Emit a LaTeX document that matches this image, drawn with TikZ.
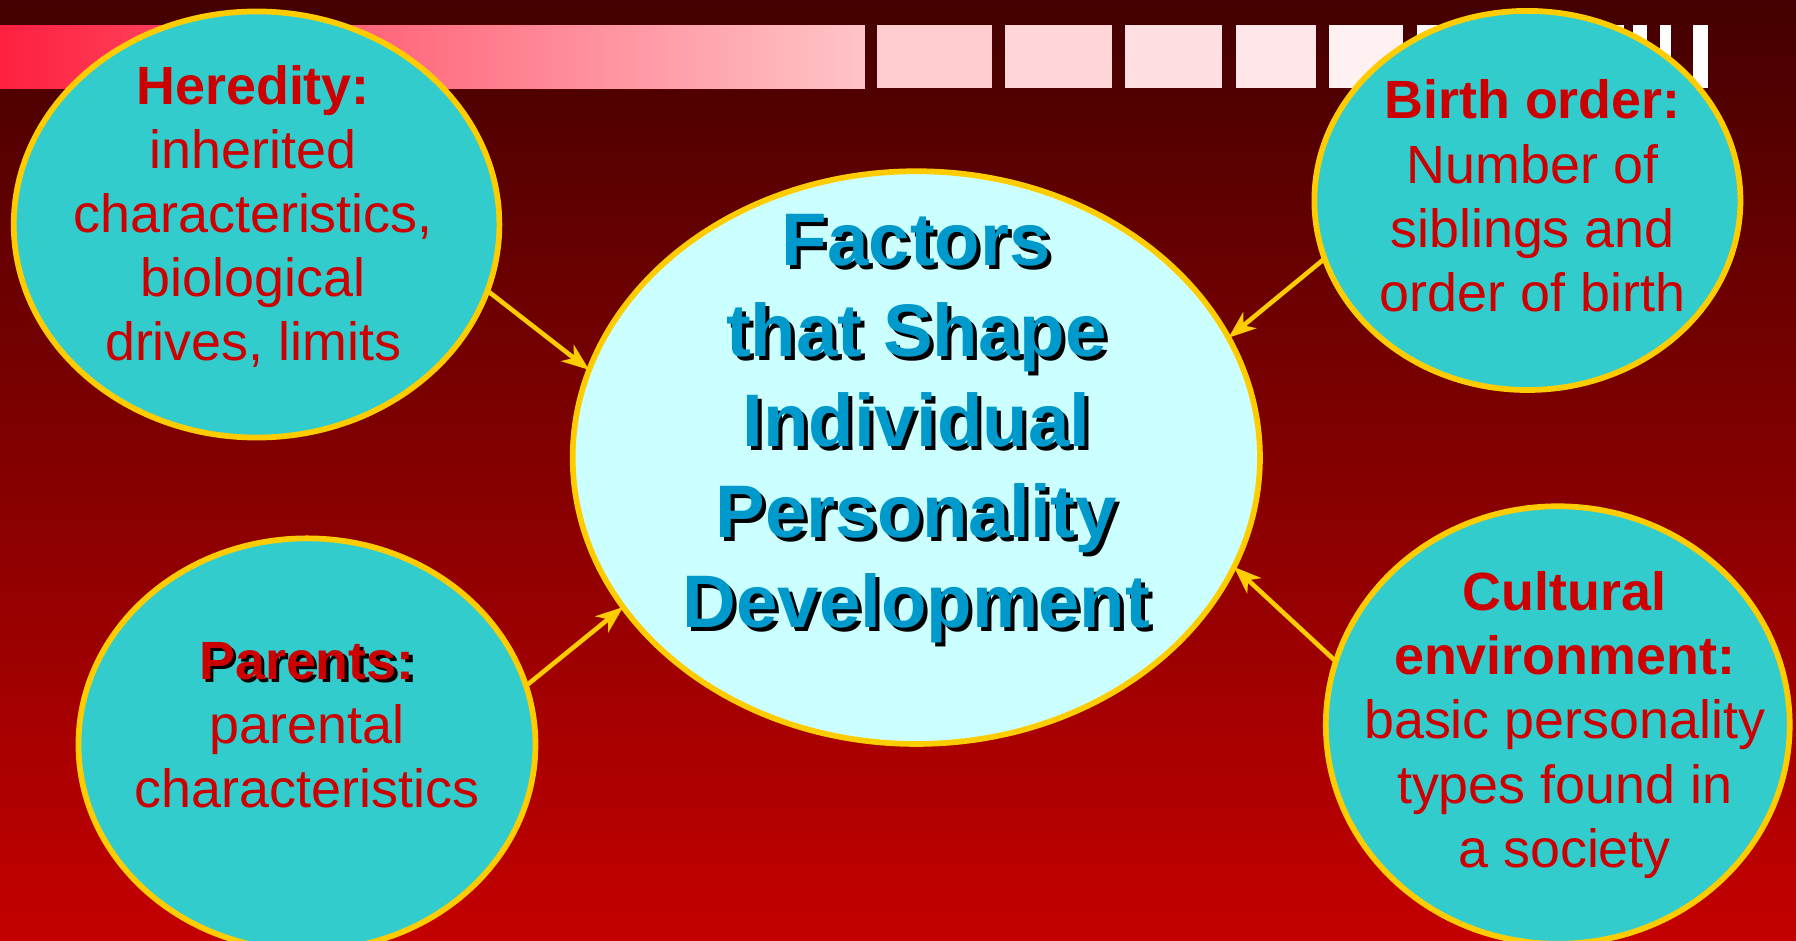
\documentclass[tikz,border=0pt]{standalone}
\usepackage{fontspec}
\setmainfont{Liberation Sans}
\usetikzlibrary{arrows.meta,shapes.geometric,positioning}

\definecolor{bgtop}{HTML}{440000}
\definecolor{bgbottom}{HTML}{C40000}
\definecolor{barleft}{HTML}{FF2040}
\definecolor{barright}{HTML}{FFC4C8}
\definecolor{rim}{HTML}{FFCC00}
\definecolor{bubblefill}{HTML}{33CCCC}
\definecolor{corefill}{HTML}{CCFFFF}
\definecolor{labelred}{HTML}{CC0000}
\definecolor{titleblue}{HTML}{0099CC}

\newcommand{\dropshadow}[2][3pt]{\leavevmode\rlap{\kern#1\raisebox{-#1}{\color{black}#2}}#2}

\begin{document}
\begin{tikzpicture}[
				x=1pt, y=-1pt,
				arrow/.style={line width=4pt, rim, -{Stealth[length=24pt, width=18pt, inset=7pt]}},
				bubble/.style={ellipse, draw=rim, line width=5pt, fill=bubblefill, inner sep=0pt, outer sep=0pt},
				core/.style={bubble, fill=corefill},
				bubbletext/.style={text=labelred, align=center, font=\fontsize{47}{56}\selectfont},
				coretext/.style={text=titleblue, align=center, font=\bfseries\fontsize{65}{79}\selectfont},
			]
				\useasboundingbox (0,0) rectangle (1568,821);
				\shade[top color=bgtop, bottom color=bgbottom] (0,0) rectangle (1568,821);
				\shade[left color=barleft, right color=barright] (0,22) rectangle (755,77);
				\foreach \xa/\xb/\tone in {766/866/85, 877/971/70, 982/1067/55, 1079/1149/40, 1160/1225/25, 1237/1418/10, 1426/1438/0, 1449/1459/0, 1478/1491/0}
					\fill[barright!\tone!white] (\xa,22) rectangle (\xb,77);
				
				\node[core, minimum width=600, minimum height=500] (core) at (800,399.5) {};
				\node[bubble, minimum width=424, minimum height=372] (heredity) at (224,196) {};
				\node[bubble, minimum width=372, minimum height=331] (birth) at (1333.5,175) {};
				\node[bubble, minimum width=399, minimum height=360] (parents) at (268,650) {};
				\node[bubble, minimum width=405, minimum height=382] (culture) at (1360,633) {};
				
				\node[coretext] (core text) at (800,376) {\dropshadow[3.5pt]{Factors}\\\dropshadow[3.5pt]{that Shape}\\\dropshadow[3.5pt]{Individual}\\\dropshadow[3.5pt]{Personality}\\\dropshadow[3.5pt]{Development}};
				\node[bubbletext] (heredity text) at (221,189) {\textbf{Heredity:}\\inherited\\characteristics,\\biological\\drives, limits};
				\node[bubbletext] (birth text) at (1338,171) {\textbf{Birth order:}\\Number of\\siblings and\\order of birth};
				\node[bubbletext] (parents text) at (268,633) {\textbf{\dropshadow{Parents:}}\\parental\\characteristics};
				\node[bubbletext] (culture text) at (1366,633) {\textbf{Cultural}\\\textbf{environment:}\\basic personality\\types found in\\a society};
				
				\draw[arrow] (heredity.-16) -- (core.165);
				\draw[arrow] (birth.-164.6) -- (core.21);
				\draw[arrow] (parents.15.6) -- (core.-153.9);
				\draw[arrow] (culture.164.5) -- (core.-19.2);
			\end{tikzpicture}
\end{document}
